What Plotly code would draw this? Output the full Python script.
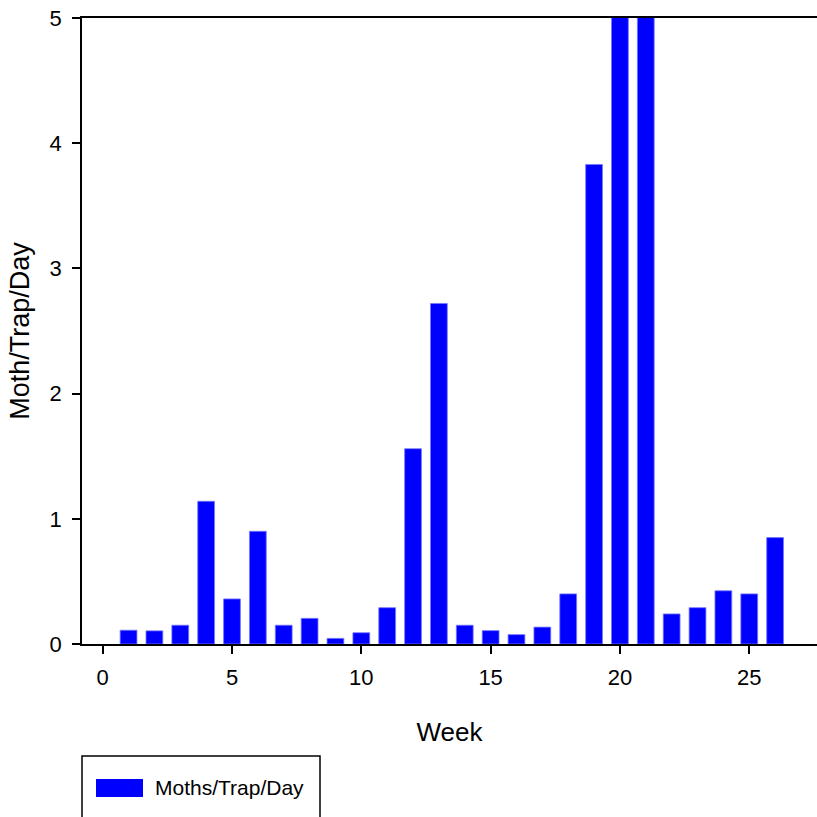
import plotly.graph_objects as go

weeks = list(range(1, 27))
moths_per_trap_day = [0.11, 0.105, 0.15, 1.14, 0.36, 0.90, 0.15, 0.205, 0.045, 0.09,
                      0.29, 1.56, 2.72, 0.15, 0.107, 0.075, 0.135, 0.40, 3.83, 5.6,
                      5.8, 0.24, 0.29, 0.425, 0.40, 0.85]
x_ticks = [0, 5, 10, 15, 20, 25]
y_ticks = [0, 1, 2, 3, 4, 5]
series_name = "Moths/Trap/Day"

REG = "Liberation Sans, Arial, sans-serif"

fig = go.Figure()
fig.add_trace(go.Bar(
    x=weeks, y=moths_per_trap_day, name=series_name, width=0.65,
    marker=dict(color="#0000FF", line=dict(color="#7777FF", width=0.8)),
    showlegend=False,
))

W, H = 817, 817
ml, mt, mb, mr = 82, 18, 173, 0
pw = W - ml - mr
ph = H - mt - mb

def px_to_paper_x(px):
    return (px - ml) / pw

def px_to_paper_y(py):
    return (H - mb - py) / ph

fig.update_layout(
    width=W, height=H,
    margin=dict(l=ml, r=mr, t=mt, b=mb, pad=0),
    paper_bgcolor="white", plot_bgcolor="white",
    xaxis=dict(
        range=[-0.8, 27.62], tickvals=x_ticks, ticks="outside", ticklen=8, tickwidth=1.5,
        tickcolor="black", showline=True, linecolor="black", linewidth=2, mirror=True,
        showgrid=False, zeroline=False,
        tickfont=dict(family=REG, size=22, color="black"),
        ticklabelstandoff=5,
        title=dict(text="Week", font=dict(family=REG, size=26, color="black"), standoff=33),
    ),
    yaxis=dict(
        range=[0, 5], tickvals=y_ticks, ticks="outside", ticklen=8, tickwidth=1.5,
        tickcolor="black", showline=True, linecolor="black", linewidth=1.5,
        showgrid=False, zeroline=False,
        tickfont=dict(family=REG, size=22, color="black"),
        ticklabelstandoff=6,
        title=dict(text="Moth/Trap/Day", font=dict(family=REG, size=27, color="black"), standoff=12),
    ),
    shapes=[
        dict(type="rect", xref="paper", yref="paper",
             x0=px_to_paper_x(82), x1=px_to_paper_x(320),
             y0=px_to_paper_y(840), y1=px_to_paper_y(756),
             line=dict(color="black", width=1.5), fillcolor="rgba(0,0,0,0)"),
        dict(type="rect", xref="paper", yref="paper",
             x0=px_to_paper_x(96), x1=px_to_paper_x(143),
             y0=px_to_paper_y(797), y1=px_to_paper_y(779),
             line=dict(width=0), fillcolor="#0000FF"),
    ],
    annotations=[
        dict(text=series_name, xref="paper", yref="paper",
             x=px_to_paper_x(153), y=px_to_paper_y(788), xanchor="left", yanchor="middle",
             showarrow=False, font=dict(family=REG, size=21, color="black")),
    ],
)

fig.write_html("out.html")
